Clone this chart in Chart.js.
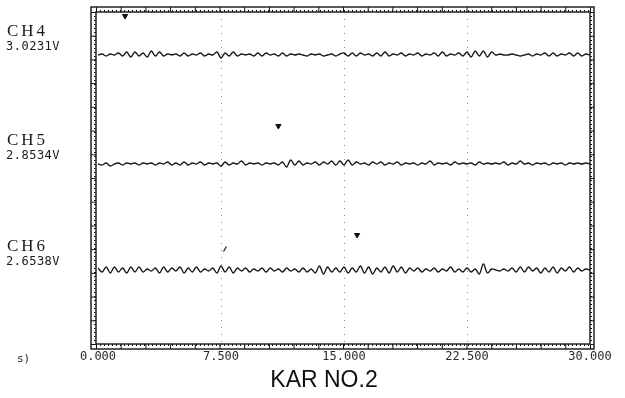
<!DOCTYPE html>
<html>
<head>
<meta charset="utf-8">
<script src="https://cdn.jsdelivr.net/npm/chart.js@4.4.1/dist/chart.umd.min.js"></script>
<style>
  html, body { margin: 0; padding: 0; background: #fff; }
  #wrap { width: 625px; height: 398px; }
</style>
</head>
<body>
<div id="wrap"><canvas id="scope"></canvas></div>
<script>
// --- DATA ---
// time axis (s), one sample every 0.25 s
const timeStart = 0;
const timeEnd = 30;
const timeStep = 0.25;
const xTickValues = [0, 7.5, 15, 22.5, 30];

const channelNames = ["CH4", "CH5", "CH6"];
const channelLevels = ["3.0231V", "2.8534V", "2.6538V"];
// screen baseline of each trace (vertical screen units, 0 = bottom)
const channelBase = [288, 179, 73];

// trace deviation from baseline, screen units
const ch4Trace = [
  0, 1, -1, 1, 0, 2, -1, 3, -2, 3,
  -1, 2, -2, 4, -1, 3, -1, 1, 0, 1,
  -1, 2, -1, 1, 0, 2, -1, 1, 0, 3,
  -3, 2, -1, 3, -1, 1, 0, 1, -1, 2,
  -1, 2, 0, 1, -1, 2, -1, 1, 0, 1,
  0, -1, 1, 0, 1, -1, 0, 1, -1, 1,
  2, -1, 2, -1, 2, 0, 1, -1, 2, -1,
  3, -1, 1, 0, 2, -1, 1, 0, 2, -1,
  1, 0, 2, -1, 3, -1, 1, 0, 2, -1,
  3, -2, 4, -1, 4, -2, 3, 0, 1, 0,
  0, 1, 0, -1, 0, 1, -1, 1, 0, 2,
  -1, 2, -1, 1, 0, 2, -1, 2, -1, 1, 0
];
const ch5Trace = [
  0, -1, 1, -2, 0, 1, -1, 1, 0, 1,
  -1, 1, 0, 1, -1, 1, 0, 2, -1, 1,
  -1, 2, -1, 1, 0, 2, -1, 1, 0, 1,
  -2, 2, -1, 1, 0, 3, -1, 1, 0, 1,
  -1, 1, 0, 1, -1, 2, -3, 4, -1, 3,
  -1, 1, 0, 2, -1, 2, 0, 3, -1, 3,
  -1, 4, -1, 2, 0, 1, -1, 2, 0, 2,
  -1, 1, 0, 2, -1, 1, 0, 1, -1, 1,
  0, 3, -1, 1, 0, 1, -1, 2, 0, 1,
  0, 1, -1, 2, 0, 1, 0, 1, 0, 2,
  -1, 1, 0, 3, 0, 1, -1, 1, 0, 1,
  -1, 1, 0, 1, -1, 1, 0, 1, 0, 1, 0
];
const ch6Trace = [
  2, -2, 3, -3, 3, -2, 2, -3, 3, -2,
  3, -2, 1, -1, 2, -3, 3, -2, 2, -1,
  3, -3, 2, -2, 3, -2, 1, -1, 2, -3,
  4, -2, 3, -3, 2, -1, 2, -2, 1, -1,
  2, -2, 2, -1, 1, -2, 2, -1, 1, -2,
  2, -2, 1, -3, 4, -4, 3, -2, 2, -2,
  3, -3, 2, -2, 4, -3, 3, -4, 2, -2,
  3, -3, 4, -2, 3, -3, 2, -1, 2, -2,
  1, -1, 2, -2, 1, -1, 3, -2, 1, -2,
  2, -2, 1, -4, 6, -3, 1, 0, -1, 1,
  -1, 2, -2, 3, -2, 3, -1, 2, -3, 2,
  -2, 3, -3, 2, -1, 3, -2, 2, -1, 1, 0
];
const traces = [ch4Trace, ch5Trace, ch6Trace];

// cursor markers: [time, screen height]
const cursorMarks = [[1.65, 327], [11.0, 217], [15.8, 108]];
const strayMark = [7.74, 94];

// --- BUILD DATASETS ---
function traceToPoints(trace, base) {
  return trace.map((v, i) => ({ x: timeStart + i * timeStep, y: base + v }));
}

const datasets = traces.map((trace, k) => ({
  label: channelNames[k],
  data: traceToPoints(trace, channelBase[k]),
  borderColor: "#161616",
  borderWidth: 1.35,
  pointRadius: 0,
  tension: 0.35
}));

datasets.push({
  type: "scatter",
  label: "cursor",
  data: cursorMarks.map(([x, y]) => ({ x, y })),
  pointStyle: "triangle",
  rotation: 180,
  radius: 3,
  backgroundColor: "#111",
  borderColor: "#111",
  borderWidth: 1
});
datasets.push({
  type: "scatter",
  label: "stray",
  data: [{ x: strayMark[0], y: strayMark[1] }],
  pointStyle: "line",
  rotation: -60,
  radius: 3,
  borderColor: "#333",
  borderWidth: 1.2
});

// --- FRAME + LABELS ---
const framePlugin = {
  id: "scopeFrame",
  afterDraw(chart) {
    const { ctx, chartArea: a } = chart;
    const iL = a.left - 2, iR = a.right, iT = a.top, iB = a.bottom + 1;
    const oL = iL - 5, oR = iR + 4, oT = iT - 5, oB = iB + 5;
    ctx.save();
    ctx.strokeStyle = "#151515";
    ctx.lineWidth = 1.4;
    ctx.strokeRect(oL, oT, oR - oL, oB - oT);
    ctx.strokeRect(iL, iT, iR - iL, iB - iT);

    // ruler ticks inside the frame band
    ctx.lineWidth = 1;
    const majorX = (iR - iL) / 20, majorY = (iB - iT) / 14;
    for (let x = iL; x <= iR; x += 4) {
      ctx.beginPath();
      ctx.moveTo(x + 0.5, iT); ctx.lineTo(x + 0.5, iT - 2);
      ctx.moveTo(x + 0.5, iB); ctx.lineTo(x + 0.5, iB + 2);
      ctx.stroke();
    }
    for (let x = iL; x <= iR + 0.1; x += majorX) {
      ctx.beginPath();
      ctx.moveTo(x + 0.5, iT); ctx.lineTo(x + 0.5, oT);
      ctx.moveTo(x + 0.5, iB); ctx.lineTo(x + 0.5, oB);
      ctx.stroke();
    }
    for (let y = iT; y <= iB; y += 4) {
      ctx.beginPath();
      ctx.moveTo(iL, y + 0.5); ctx.lineTo(iL - 2, y + 0.5);
      ctx.moveTo(iR, y + 0.5); ctx.lineTo(iR + 2, y + 0.5);
      ctx.stroke();
    }
    for (let y = iT; y <= iB + 0.1; y += majorY) {
      ctx.beginPath();
      ctx.moveTo(iL, y + 0.5); ctx.lineTo(oL, y + 0.5);
      ctx.moveTo(iR, y + 0.5); ctx.lineTo(oR, y + 0.5);
      ctx.stroke();
    }

    // channel names and levels
    const yScale = chart.scales.y;
    ctx.fillStyle = "#1a1a1a";
    ctx.textBaseline = "middle";
    ctx.textAlign = "left";
    channelNames.forEach((name, k) => {
      const yb = yScale.getPixelForValue(channelBase[k]);
      ctx.font = "17px 'Liberation Serif'";
      ctx.letterSpacing = "3px";
      ctx.fillText(name, 7, yb - 23);
      ctx.font = "12px 'DejaVu Sans Mono'";
      ctx.letterSpacing = "0.5px";
      ctx.fillText(channelLevels[k], 6, yb - 8);
    });
    ctx.letterSpacing = "0px";

    // units marker and run title under the time axis
    ctx.font = "11px 'DejaVu Sans Mono'";
    ctx.fillText("s)", 17, 359);
    ctx.font = "23px 'Liberation Sans'";
    ctx.textAlign = "center";
    ctx.fillStyle = "#111";
    ctx.fillText("KAR NO.2", 324, 381);
    ctx.restore();
  }
};

// --- CHART ---
new Chart(document.getElementById("scope"), {
  type: "line",
  data: { datasets },
  options: {
    responsive: true,
    maintainAspectRatio: false,
    animation: false,
    layout: { padding: { left: 98, right: 35, top: 12, bottom: 0 } },
    plugins: {
      legend: { display: false },
      tooltip: { enabled: false }
    },
    scales: {
      x: {
        type: "linear",
        min: timeStart,
        max: timeEnd,
        afterBuildTicks: (scale) => {
          scale.ticks = xTickValues.map(v => ({ value: v }));
        },
        afterFit: (scale) => { scale.height = 55; },
        ticks: {
          padding: 7,
          maxRotation: 0,
          autoSkip: false,
          color: "#2a2a2a",
          font: { family: "'DejaVu Sans Mono'", size: 12 },
          callback: (v) => Number(v).toFixed(3)
        },
        grid: {
          drawTicks: false,
          lineWidth: 1,
          color: (c) => (c.tick && (c.tick.value === timeStart || c.tick.value === timeEnd)) ? "rgba(0,0,0,0)" : "#8a8a8a"
        },
        border: { display: false, dash: [1, 6] }
      },
      y: {
        display: false,
        min: 0,
        max: 331
      }
    }
  },
  plugins: [framePlugin]
});
</script>
</body>
</html>
